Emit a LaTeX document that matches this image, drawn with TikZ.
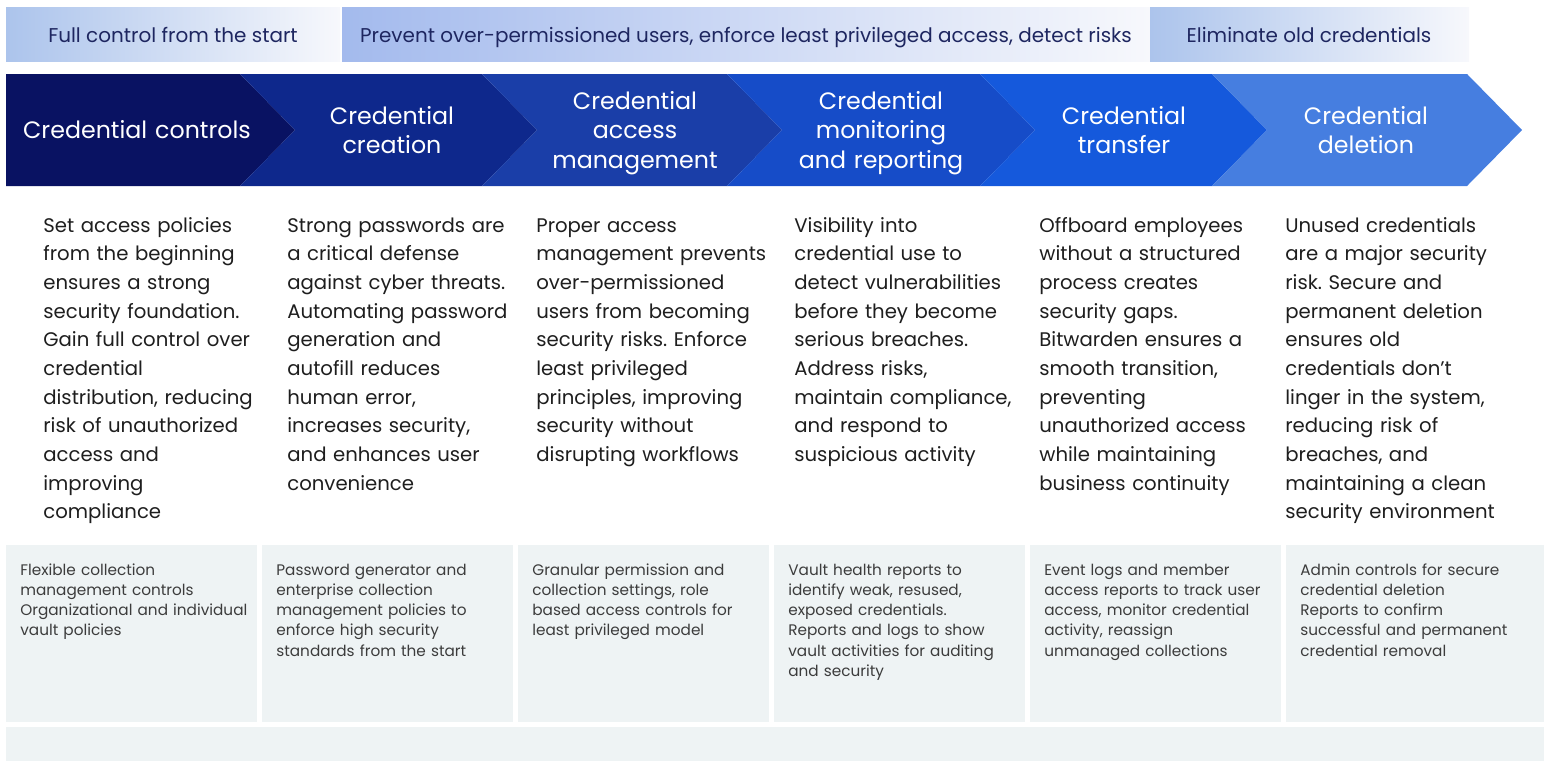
\documentclass[tikz,border=0pt]{standalone}
\usepackage{fontspec}
\setmainfont{Poppins}
\usetikzlibrary{calc}
\frenchspacing

\definecolor{chevA}{RGB}{9,18,98}
\definecolor{chevB}{RGB}{14,40,140}
\definecolor{chevC}{RGB}{26,62,168}
\definecolor{chevD}{RGB}{22,76,200}
\definecolor{chevE}{RGB}{21,89,220}
\definecolor{chevF}{RGB}{70,126,224}
\definecolor{bannerL}{RGB}{172,196,236}
\definecolor{bannerR}{RGB}{247,248,252}
\definecolor{bannertext}{RGB}{30,38,96}
\definecolor{boxfill}{RGB}{238,243,244}
\definecolor{bodytext}{RGB}{30,30,30}
\definecolor{feattext}{RGB}{60,60,60}

\begin{document}
\begin{tikzpicture}[x=0.02cm, y=-0.02cm,
    bannerlabel/.style={anchor=base, inner sep=0pt, text=bannertext,
        font=\fontsize{11.35}{13}\selectfont},
    stagetitle/.style={anchor=base, inner sep=0pt, align=center, text width=5cm,
        text=white, font=\fontsize{13.5}{17}\selectfont},
    stagetext/.style={anchor=base west, inner sep=0pt, align=left, text width=5.2cm,
        text=bodytext, font=\fontsize{11.2}{16.33}\selectfont},
    feattext/.style={anchor=base west, inner sep=0pt, align=left, text width=5cm,
        text=feattext, font=\fontsize{8.7}{11.57}\selectfont}]

    % Page frame
    \useasboundingbox (0,0) rectangle (1544,761);

    % Top banners
    \shade[left color=bannerL, right color=bannerR] (6,7) rectangle (340,61);
    \shade[left color=bannerL!95!blue, right color=bannerR] (342,7) rectangle (1150,61);
    \shade[left color=bannerL, right color=bannerR] (1150,7) rectangle (1469,61);
    \node[bannerlabel] (goalA) at (173,42) {Full control from the start};
    \node[bannerlabel] (goalB) at (746,42) {Prevent over-permissioned users, enforce least privileged access, detect risks};
    \node[bannerlabel] (goalC) at (1309,42) {Eliminate old credentials};

    % Chevrons
    \fill[chevA] (6,74) -- (240,74) -- (295,130) -- (240,186) -- (6,186) -- cycle;
    \foreach \prev/\corner/\col in {240/482/chevB, 482/727/chevC, 727/980/chevD,
        980/1212/chevE, 1212/1467/chevF}
        \fill[\col] (\prev,74) -- (\corner,74) -- ({\corner+55},130) -- (\corner,186)
            -- (\prev,186) -- ({\prev+55},130) -- cycle;

    % Stage titles
    \node[stagetitle] (stageA) at (137,138) {Credential controls};
    \node[stagetitle] (stageB) at (392,124) {Credential\\creation};
    \node[stagetitle] (stageC) at (635,109) {Credential\\access\\management};
    \node[stagetitle] (stageD) at (881,109) {Credential\\monitoring\\and reporting};
    \node[stagetitle] (stageE) at (1124,124) {Credential\\transfer};
    \node[stagetitle] (stageF) at (1366,124) {Credential\\deletion};

    % Stage descriptions
    \node[stagetext] (textA) at (43,232) {Set access policies\\from the beginning\\ensures a strong\\security foundation.\\Gain full control over\\credential\\distribution, reducing\\risk of unauthorized\\access and\\improving\\compliance};
    \node[stagetext] (textB) at (287,232) {Strong passwords are\\a critical defense\\against cyber threats.\\Automating password\\generation and\\autofill reduces\\human error,\\increases security,\\and enhances user\\convenience};
    \node[stagetext] (textC) at (536,232) {Proper access\\management prevents\\over-permissioned\\users from becoming\\security risks. Enforce\\least privileged\\principles, improving\\security without\\disrupting workflows};
    \node[stagetext] (textD) at (794,232) {Visibility into\\credential use to\\detect vulnerabilities\\before they become\\serious breaches.\\Address risks,\\maintain compliance,\\and respond to\\suspicious activity};
    \node[stagetext] (textE) at (1039,232) {Offboard employees\\without a structured\\process creates\\security gaps.\\Bitwarden ensures a\\smooth transition,\\preventing\\unauthorized access\\while maintaining\\business continuity};
    \node[stagetext] (textF) at (1285,232) {Unused credentials\\are a major security\\risk. Secure and\\permanent deletion\\ensures old\\credentials don’t\\linger in the system,\\reducing risk of\\breaches, and\\maintaining a clean\\security environment};

    % Feature boxes
    \foreach \x in {6,262,518,774,1030}
        \fill[boxfill] (\x,545) rectangle ++(251,177);
    \fill[boxfill] (1286,545) rectangle (1544,722);
    \fill[boxfill] (6,727) rectangle (1544,761);

    \node[feattext] (featA) at (20,575) {Flexible collection\\management controls\\Organizational and individual\\vault policies};
    \node[feattext] (featB) at (276,575) {Password generator and\\enterprise collection\\management policies to\\enforce high security\\standards from the start};
    \node[feattext] (featC) at (532,575) {Granular permission and\\collection settings, role\\based access controls for\\least privileged model};
    \node[feattext] (featD) at (788,575) {Vault health reports to\\identify weak, resused,\\exposed credentials.\\Reports and logs to show\\vault activities for auditing\\and security};
    \node[feattext] (featE) at (1044,575) {Event logs and member\\access reports to track user\\access, monitor credential\\activity, reassign\\unmanaged collections};
    \node[feattext] (featF) at (1300,575) {Admin controls for secure\\credential deletion\\Reports to confirm\\successful and permanent\\credential removal};
\end{tikzpicture}
\end{document}
